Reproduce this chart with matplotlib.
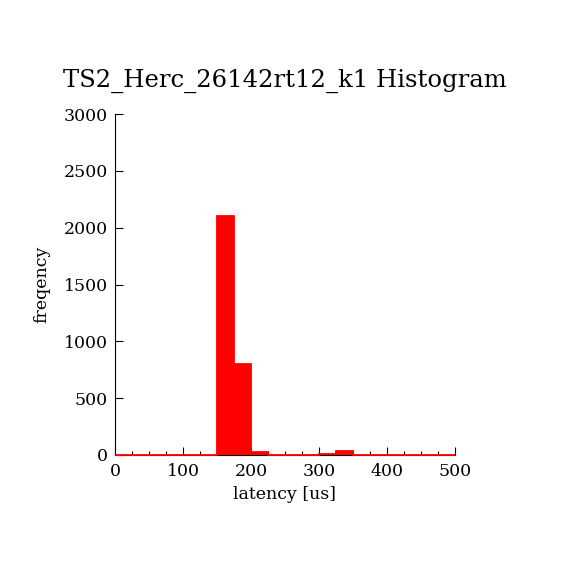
import matplotlib
matplotlib.use("Agg")
import matplotlib.pyplot as plt
import numpy as np
from matplotlib.ticker import MultipleLocator

bin_edges = list(range(0, 525, 25))
counts = [0, 0, 0, 0, 0, 0, 2100, 800, 30, 0, 0, 0, 10, 35, 0, 0, 0, 0, 0, 0]
x_ticks = [0, 100, 200, 300, 400, 500]
y_ticks = [0, 500, 1000, 1500, 2000, 2500, 3000]

plt.rcParams['font.family'] = ['DejaVu Serif']
fig = plt.figure(figsize=(5.7, 5.7), dpi=100)
ax = fig.add_axes([0.2018, 0.2018, 0.596, 0.598])
ax.stairs(counts, bin_edges, fill=True, color='red', linewidth=0, zorder=3)
ax.stairs(counts, bin_edges, fill=False, color='red', linewidth=1.3, baseline=0,
          zorder=5, clip_on=False)
ax.set_xlim(0, 500)
ax.set_ylim(0, 3000)
ax.set_xticks(x_ticks)
ax.set_yticks(y_ticks)
ax.xaxis.set_minor_locator(MultipleLocator(25))
ax.tick_params(direction='in', length=6, width=0.8, labelsize=12.5, top=False, right=False)
ax.tick_params(which='minor', direction='in', length=3, width=0.8)
ax.tick_params(axis='x', pad=6)
ax.tick_params(axis='y', pad=5)
for s in ['top', 'right']:
    ax.spines[s].set_visible(False)
ax.set_xlabel('latency [us]', fontsize=12.5, labelpad=4)
ax.set_ylabel('freqency', fontsize=12.5, labelpad=10)
ax.set_title('TS2_Herc_26142rt12_k1 Histogram', fontsize=17.5, pad=20)
fig.savefig('out.png', dpi=100)
